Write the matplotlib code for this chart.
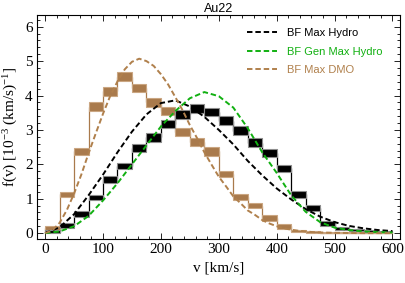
import numpy as np
import matplotlib.pyplot as plt
from matplotlib.ticker import MultipleLocator

plt.rcParams['mathtext.fontset'] = 'custom'
plt.rcParams['mathtext.rm'] = 'Liberation Serif'
plt.rcParams['mathtext.it'] = 'Liberation Serif:italic'

# histogram bins (km/s) and bands (lower / upper), units of 1e-3 (km/s)^-1
v_edges = list(range(0, 625, 25))

hydro_lo = [0.00, 0.16, 0.48, 0.95, 1.45, 1.85, 2.35, 2.66, 3.06, 3.32, 3.48, 3.41,
            3.14, 2.86, 2.50, 2.22, 1.78, 1.03, 0.63, 0.22, 0.10, 0.06, 0.04, 0.02]
hydro_hi = [0.08, 0.29, 0.65, 1.10, 1.67, 2.05, 2.60, 2.90, 3.29, 3.58, 3.74, 3.65,
            3.40, 3.10, 2.76, 2.46, 1.98, 1.22, 0.82, 0.36, 0.19, 0.13, 0.09, 0.06]

dmo_lo = [0.10, 1.06, 2.27, 3.55, 4.00, 4.42, 4.09, 3.68, 3.43, 2.81, 2.54, 2.25,
          1.62, 0.96, 0.72, 0.36, 0.12, 0.02, 0.01, 0.00, 0.00, 0.00, 0.00, 0.00]
dmo_hi = [0.20, 1.21, 2.48, 3.80, 4.26, 4.67, 4.34, 3.92, 3.68, 3.05, 2.76, 2.50,
          1.82, 1.13, 0.88, 0.52, 0.27, 0.09, 0.05, 0.03, 0.03, 0.03, 0.03, 0.03]

# best fit curves
v_fit = list(range(0, 625, 25))
max_hydro = [0.00, 0.17, 0.55, 1.10, 1.70, 2.35, 2.95, 3.45, 3.78, 3.86, 3.68, 3.38, 3.00,
             2.58, 2.10, 1.68, 1.30, 0.98, 0.70, 0.48, 0.32, 0.21, 0.14, 0.09, 0.06]
gen_max_hydro = [0.00, 0.05, 0.20, 0.50, 0.95, 1.45, 2.00, 2.55, 3.10, 3.55, 3.92, 4.10, 3.98,
                 3.65, 3.05, 2.35, 1.75, 1.10, 0.62, 0.32, 0.16, 0.09, 0.05, 0.03, 0.02]

v_dmo = [0, 12.5, 25, 37.5, 50, 62.5, 75, 87.5, 100, 112.5, 125, 137.5, 150, 162.5, 175,
         187.5, 200, 212.5, 225, 237.5, 250, 262.5, 275, 287.5, 300, 312.5, 325, 337.5,
         350, 362.5, 375, 387.5, 400, 412.5, 425, 437.5, 450, 462.5, 475, 487.5, 500,
         550, 600]
max_dmo = [0.00, 0.08, 0.30, 0.67, 1.15, 1.70, 2.32, 2.90, 3.47, 3.99, 4.41, 4.76, 4.98,
           5.07, 5.00, 4.86, 4.62, 4.32, 3.95, 3.57, 3.14, 2.76, 2.35, 1.99, 1.64, 1.36,
           1.07, 0.87, 0.66, 0.53, 0.38, 0.28, 0.20, 0.14, 0.10, 0.07, 0.05, 0.03, 0.02,
           0.015, 0.01, 0.00, 0.00]

brown = '#a97a4c'
brown_line = '#b0804c'
green = '#11b011'

fig = plt.figure(figsize=(4.05, 2.83), dpi=100)
ax = fig.add_axes([0.0914, 0.1555, 0.8963, 0.7915])

left = np.array(v_edges[:-1])
w = 25

def band(lo, hi, fill, edge, step):
    lo = np.array(lo); hi = np.array(hi)
    ax.stairs((lo + hi) / 2, v_edges, color=step, lw=0.9, zorder=2)
    ax.bar(left, hi - lo, width=w, bottom=lo, align='edge', color=fill,
           edgecolor=edge, linewidth=0.8, zorder=3)

band(dmo_lo, dmo_hi, brown, '#caa682', brown)
band(hydro_lo, hydro_hi, 'black', '#8c8c8c', 'black')

ls = (0, (2.8, 1.5))
ax.plot(v_fit, max_hydro, color='black', lw=1.4, ls=ls, label='BF Max Hydro', zorder=4)
ax.plot(v_fit, gen_max_hydro, color=green, lw=1.4, ls=ls, label='BF Gen Max Hydro', zorder=4)
ax.plot(v_dmo, max_dmo, color=brown_line, lw=1.4, ls=ls, label='BF Max DMO', zorder=4)

ax.set_xlim(-14, 613)
ax.set_ylim(-0.17, 6.34)
ax.xaxis.set_major_locator(MultipleLocator(100))
ax.xaxis.set_minor_locator(MultipleLocator(20))
ax.yaxis.set_major_locator(MultipleLocator(1))
ax.yaxis.set_minor_locator(MultipleLocator(0.2))
ax.tick_params(which='both', direction='in', top=True, right=True, width=0.6)
ax.tick_params(which='major', length=4, labelsize=11, pad=3)
ax.tick_params(which='minor', length=2)
for lab in ax.get_xticklabels() + ax.get_yticklabels():
    lab.set_family('Liberation Serif')
for s in ax.spines.values():
    s.set_linewidth(0.8)

ax.set_xlabel('v [km/s]', family='Liberation Serif', fontsize=11, labelpad=4)
ax.set_ylabel(r'f(v) [10$^{-3}$ (km/s)$^{-1}$]', family='Liberation Serif', fontsize=11, labelpad=4)
ax.set_title('Au22', family='Liberation Sans', fontsize=9, pad=2)

leg = ax.legend(loc='upper right', bbox_to_anchor=(0.98, 0.985), frameon=False,
                prop={'family': 'Liberation Sans', 'size': 8}, handlelength=2.7,
                handletextpad=0.9, labelspacing=0.75)
for t, c in zip(leg.get_texts(), ['black', green, brown_line]):
    t.set_color(c)

fig.savefig('out.png', dpi=100)
